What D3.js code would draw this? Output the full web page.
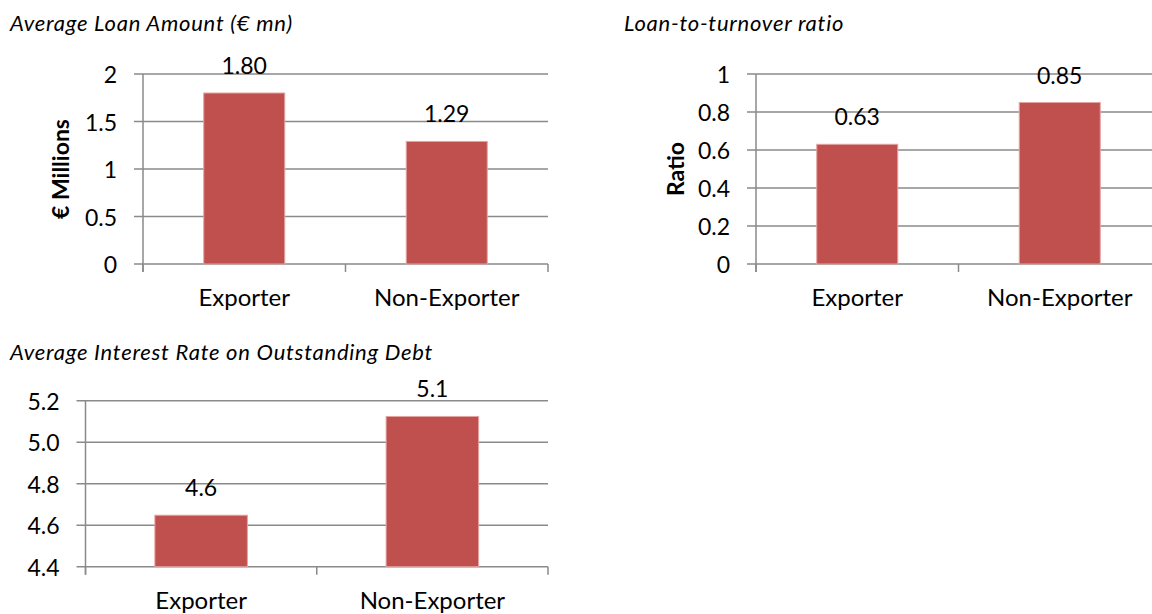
<!DOCTYPE html>
<html>
<head>
<meta charset="utf-8">
<script src="https://cdn.jsdelivr.net/npm/d3@7"></script>
<style>
  html, body { margin: 0; padding: 0; background: #fff; }
  svg { display: block; }
  text { font-family: Lato, "Open Sans", sans-serif; fill: #000; }
</style>
</head>
<body>
<svg id="chart" width="1152" height="614"></svg>
<script>
// ---- Data ----
const categories = ["Exporter", "Non-Exporter"];

const loanTitle = "Average Loan Amount (€ mn)";
const loanAxisTitle = "€ Millions";
const loanValues = [1.80, 1.29];
const loanTicks = [0, 0.5, 1, 1.5, 2];

const ratioTitle = "Loan-to-turnover ratio";
const ratioAxisTitle = "Ratio";
const ratioValues = [0.63, 0.85];
const ratioTicks = [0, 0.2, 0.4, 0.6, 0.8, 1];

const rateTitle = "Average Interest Rate on Outstanding Debt";
const rateValues = [4.648, 5.124];
const rateTicks = [4.4, 4.6, 4.8, 5.0, 5.2];

// ---- Drawing ----
const svg = d3.select("#chart");
const BAR = "#C0504D";
const GRID = "#8a8a8a";

function drawChart(o) {
  const g = svg.append("g");
  const x = d3.scaleBand().domain(categories).range([o.x0, o.x1])
    .paddingInner(0.6).paddingOuter(0.3);
  const y = d3.scaleLinear().domain([o.ticks[0], o.ticks[o.ticks.length - 1]])
    .range([o.yBottom, o.yTop]);

  // title
  g.append("text").attr("x", o.titleX).attr("y", o.titleY)
    .attr("font-style", "italic").attr("font-size", 22)
    .attr("letter-spacing", 0.75).text(o.title);

  // gridlines
  g.append("g").selectAll("line").data(o.ticks).join("line")
    .attr("x1", o.x0 - 9).attr("x2", o.x1)
    .attr("y1", d => y(d)).attr("y2", d => y(d))
    .attr("stroke", GRID).attr("stroke-width", 1.5);

  // y axis line
  g.append("line").attr("x1", o.x0).attr("x2", o.x0)
    .attr("y1", o.yTop).attr("y2", o.yBottom + 8)
    .attr("stroke", GRID).attr("stroke-width", 1.5);

  // x category boundary ticks
  const bounds = [o.x0, (o.x0 + o.x1) / 2, o.x1];
  g.append("g").selectAll("line").data(bounds).join("line")
    .attr("x1", d => d).attr("x2", d => d)
    .attr("y1", o.yBottom).attr("y2", o.yBottom + 8)
    .attr("stroke", GRID).attr("stroke-width", 1.5);

  // y tick labels
  g.append("g").selectAll("text").data(o.ticks).join("text")
    .attr("x", o.x0 - 26).attr("y", d => y(d))
    .attr("text-anchor", "end").attr("dominant-baseline", "central")
    .attr("font-size", 23).text(o.tickFmt);

  // bars
  g.append("g").selectAll("rect").data(o.values).join("rect")
    .attr("x", (d, i) => x(categories[i]))
    .attr("width", x.bandwidth())
    .attr("y", d => y(d))
    .attr("height", d => o.yBottom - y(d))
    .attr("fill", BAR).attr("stroke", "#e3a3a1").attr("stroke-width", 1);

  // data labels
  g.append("g").selectAll("text").data(o.values).join("text")
    .attr("x", (d, i) => x(categories[i]) + x.bandwidth() / 2)
    .attr("y", d => y(d) - 19)
    .attr("text-anchor", "middle").attr("font-size", 23)
    .text(o.labelFmt);

  // category labels
  g.append("g").selectAll("text").data(categories).join("text")
    .attr("x", d => x(d) + x.bandwidth() / 2)
    .attr("y", o.yBottom + 42)
    .attr("text-anchor", "middle").attr("font-size", 24)
    .text(d => d);

  // y axis title
  if (o.axisTitle) {
    g.append("text")
      .attr("transform", `translate(${o.axisTitleX},${(o.yTop + o.yBottom) / 2}) rotate(-90)`)
      .attr("text-anchor", "middle").attr("font-weight", "bold")
      .attr("font-size", 23).text(o.axisTitle);
  }
}

drawChart({
  title: loanTitle, titleX: 10, titleY: 31,
  axisTitle: loanAxisTitle, axisTitleX: 69,
  values: loanValues, ticks: loanTicks,
  x0: 143, x1: 548, yTop: 74, yBottom: 264,
  tickFmt: d => String(d), labelFmt: d3.format(".2f")
});

drawChart({
  title: ratioTitle, titleX: 624, titleY: 31,
  axisTitle: ratioAxisTitle, axisTitleX: 684,
  values: ratioValues, ticks: ratioTicks,
  x0: 756, x1: 1161, yTop: 74, yBottom: 264,
  tickFmt: d => String(d), labelFmt: d3.format(".2f")
});

drawChart({
  title: rateTitle, titleX: 10, titleY: 359.5,
  axisTitle: null,
  values: rateValues, ticks: rateTicks,
  x0: 85.5, x1: 548, yTop: 400.7, yBottom: 566.7,
  tickFmt: d3.format(".1f"), labelFmt: d3.format(".1f")
});
</script>
</body>
</html>
